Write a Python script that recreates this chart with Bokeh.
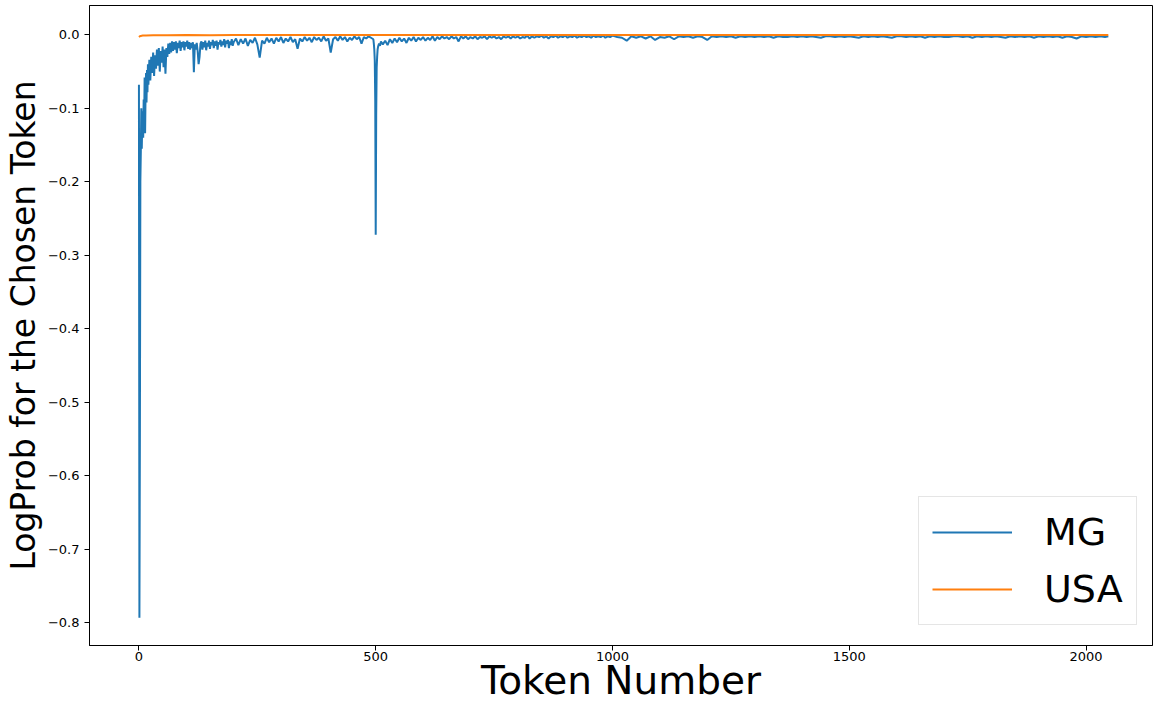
from bokeh.plotting import figure
from bokeh.models import Range1d, FixedTicker, CustomJSTickFormatter, Legend, LegendItem
from bokeh.embed import file_html
from bokeh.resources import INLINE

# ---------------- data ----------------
# MG series: token index segments and their log-probs
mg_tok_a = list(range(0, 20, 1))
mg_val_a = [-0.068, -0.793, -0.550, -0.200, -0.158, -0.100, -0.155, -0.118, -0.104, -0.140,
            -0.088, -0.120, -0.058, -0.134, -0.080, -0.052, -0.092, -0.048, -0.078, -0.040]

mg_tok_b = list(range(20, 200, 2))
mg_val_b = [-0.068, -0.034, -0.062, -0.030, -0.052, -0.024, -0.056, -0.028, -0.046, -0.020,
            -0.042, -0.018, -0.050, -0.022, -0.038, -0.016, -0.044, -0.020, -0.053, -0.018,
            -0.030, -0.012, -0.026, -0.011, -0.024, -0.009, -0.022, -0.010, -0.020, -0.009,
            -0.025, -0.011, -0.018, -0.008, -0.022, -0.010, -0.017, -0.009, -0.021, -0.010,
            -0.016, -0.008, -0.019, -0.010, -0.020, -0.011, -0.018, -0.010, -0.051, -0.013,
            -0.020, -0.011, -0.022, -0.040, -0.030, -0.012, -0.009, -0.020, -0.010, -0.017,
            -0.008, -0.021, -0.011, -0.016, -0.008, -0.019, -0.010, -0.014, -0.007, -0.018,
            -0.009, -0.015, -0.008, -0.020, -0.010, -0.013, -0.007, -0.016, -0.009, -0.014,
            -0.006, -0.017, -0.008, -0.012, -0.007, -0.018, -0.009, -0.014, -0.006, -0.015]

mg_tok_c = list(range(200, 495, 5))
mg_val_c = [-0.010, -0.005, -0.014, -0.006, -0.012, -0.005, -0.015, -0.007, -0.011, -0.004,
            -0.013, -0.031, -0.008, -0.012, -0.004, -0.010, -0.005, -0.012, -0.004, -0.009,
            -0.003, -0.011, -0.005, -0.009, -0.003, -0.010, -0.006, -0.019, -0.005, -0.009,
            -0.003, -0.008, -0.004, -0.010, -0.003, -0.007, -0.004, -0.009, -0.002, -0.008,
            -0.005, -0.024, -0.006, -0.003, -0.008, -0.002, -0.007, -0.003, -0.009, -0.004,
            -0.007, -0.002, -0.006, -0.003, -0.012, -0.003, -0.005, -0.002, -0.004]

mg_tok_spike = [495, 496, 497, 498, 499, 500, 501, 502, 503, 504, 505, 507, 509, 511]
mg_val_spike = [-0.006, -0.012, -0.020, -0.035, -0.090, -0.272, -0.110, -0.045, -0.030, -0.020,
                -0.016, -0.012, -0.015, -0.009]

mg_tok_d = list(range(515, 1005, 5))
mg_val_d = [-0.013, -0.008, -0.014, -0.006, -0.011, -0.005, -0.010, -0.004, -0.009, -0.005,
            -0.011, -0.004, -0.008, -0.003, -0.009, -0.004, -0.007, -0.003, -0.008, -0.004,
            -0.007, -0.002, -0.008, -0.003, -0.006, -0.002, -0.005, -0.003, -0.006, -0.002,
            -0.005, -0.003, -0.009, -0.002, -0.005, -0.002, -0.006, -0.003, -0.005, -0.002,
            -0.006, -0.003, -0.004, -0.002, -0.006, -0.002, -0.004, -0.002, -0.005, -0.003,
            -0.006, -0.002, -0.004, -0.002, -0.005, -0.002, -0.004, -0.002, -0.005, -0.003,
            -0.004, -0.001, -0.005, -0.002, -0.004, -0.002, -0.003, -0.001, -0.004, -0.002,
            -0.005, -0.002, -0.003, -0.001, -0.004, -0.002, -0.003, -0.001, -0.004, -0.002,
            -0.003, -0.001, -0.004, -0.002, -0.003, -0.001, -0.003, -0.002, -0.004, -0.001,
            -0.003, -0.002, -0.003, -0.001, -0.004, -0.002, -0.003, -0.001]

mg_tok_e = list(range(1010, 2050, 10)) + [2047]
mg_val_e = [-0.003, -0.004, -0.008, -0.002, -0.004, -0.002, -0.005, -0.002, -0.007, -0.003,
            -0.004, -0.002, -0.006, -0.002, -0.003, -0.002, -0.004, -0.002, -0.003, -0.007,
            -0.002, -0.003, -0.002, -0.003, -0.002, -0.004, -0.002, -0.003, -0.002, -0.003,
            -0.002, -0.003, -0.002, -0.004, -0.002, -0.003, -0.003, -0.002, -0.003, -0.002,
            -0.003, -0.002, -0.003, -0.004, -0.002, -0.002, -0.003, -0.002, -0.003, -0.002,
            -0.003, -0.004, -0.002, -0.003, -0.002, -0.003, -0.002, -0.003, -0.004, -0.002,
            -0.002, -0.003, -0.002, -0.003, -0.002, -0.004, -0.002, -0.003, -0.002, -0.003,
            -0.003, -0.002, -0.002, -0.003, -0.002, -0.004, -0.002, -0.003, -0.002, -0.003,
            -0.002, -0.003, -0.004, -0.002, -0.003, -0.002, -0.003, -0.002, -0.004, -0.002,
            -0.003, -0.002, -0.003, -0.002, -0.004, -0.002, -0.003, -0.005, -0.002, -0.003,
            -0.002, -0.003, -0.002, -0.003,
            -0.002]

# USA series
usa_tok = [0, 2, 4, 8, 15, 30, 60, 100, 150, 200, 300, 400, 500, 600, 700, 800, 900, 1000,
           1100, 1200, 1300, 1400, 1500, 1600, 1700, 1800, 1900, 2000, 2047]
usa_val = [-0.003, -0.002, -0.0015, -0.001, -0.0008, -0.0006, -0.0005, -0.0004, -0.0005, -0.0004,
           -0.0003, -0.0004, -0.0003, -0.0003, -0.0002, -0.0003, -0.0002, -0.0003, -0.0002, -0.0002,
           -0.0003, -0.0002, -0.0002, -0.0002, -0.0003, -0.0002, -0.0002, -0.0002, -0.0003]

x_ticks = [0, 500, 1000, 1500, 2000]
y_ticks = [-0.8, -0.7, -0.6, -0.5, -0.4, -0.3, -0.2, -0.1, 0.0]

series_names = ["MG", "USA"]
x_title = "Token Number"
y_title = "LogProb for the Chosen Token"

# ---------------- assemble ----------------
mg_x, mg_y = [], []
for toks, vals in [(mg_tok_a, mg_val_a), (mg_tok_b, mg_val_b), (mg_tok_c, mg_val_c),
                   (mg_tok_spike, mg_val_spike), (mg_tok_d, mg_val_d), (mg_tok_e, mg_val_e)]:
    n = min(len(toks), len(vals))
    mg_x += toks[:n]
    mg_y += vals[:n]

FONT = "DejaVu Sans"

p = figure(width=1153, height=706, output_backend="svg", toolbar_location=None,
           x_range=Range1d(-104.4, 2140.3), y_range=Range1d(-0.8308, 0.0399),
           min_border_left=88, min_border_right=1, min_border_top=5, min_border_bottom=61)
p.background_fill_color = "white"
p.border_fill_color = "white"
p.outline_line_color = "black"
p.outline_line_width = 1
p.xgrid.visible = False
p.ygrid.visible = False

r_mg = p.line(mg_x, mg_y, line_color="#1f77b4", line_width=2)
r_usa = p.line(usa_tok, usa_val, line_color="#ff7f0e", line_width=2)

for ax in (p.xaxis[0], p.yaxis[0]):
    ax.axis_line_color = "black"
    ax.major_tick_line_color = "black"
    ax.major_tick_out = 5
    ax.major_tick_in = 0
    ax.minor_tick_line_color = None
    ax.major_label_text_font = FONT
    ax.major_label_text_font_size = "13px"
    ax.major_label_text_color = "black"
    ax.axis_label_text_font = FONT
    ax.axis_label_text_font_style = "normal"
    ax.axis_label_text_color = "black"

p.xaxis[0].ticker = FixedTicker(ticks=x_ticks)
p.xaxis[0].major_label_standoff = 1
p.xaxis[0].axis_label = x_title
p.xaxis[0].axis_label_text_font_size = "39px"
p.xaxis[0].axis_label_standoff = -6

p.yaxis[0].ticker = FixedTicker(ticks=y_ticks)
p.yaxis[0].major_label_standoff = 5
p.yaxis[0].formatter = CustomJSTickFormatter(code="""
    if (Math.abs(tick) < 1e-9) { return "0.0"; }
    return (tick < 0 ? "\\u2212" : "") + Math.abs(tick).toFixed(1);
""")
p.yaxis[0].axis_label = y_title
p.yaxis[0].axis_label_text_font_size = "33px"
p.yaxis[0].axis_label_standoff = 2

legend = Legend(items=[LegendItem(label=series_names[0], renderers=[r_mg]),
                       LegendItem(label=series_names[1], renderers=[r_usa])],
                location=(829, 20))
legend.label_text_font = FONT
legend.label_text_font_size = "38px"
legend.label_text_color = "black"
legend.glyph_width = 80
legend.glyph_height = 44
legend.label_standoff = 32
legend.padding = 13
legend.spacing = 13
legend.margin = 0
legend.border_line_color = "#cccccc"
legend.border_line_width = 1
legend.background_fill_color = "white"
legend.background_fill_alpha = 0.8
p.add_layout(legend)

open("out.html", "w").write(file_html(p, INLINE))
